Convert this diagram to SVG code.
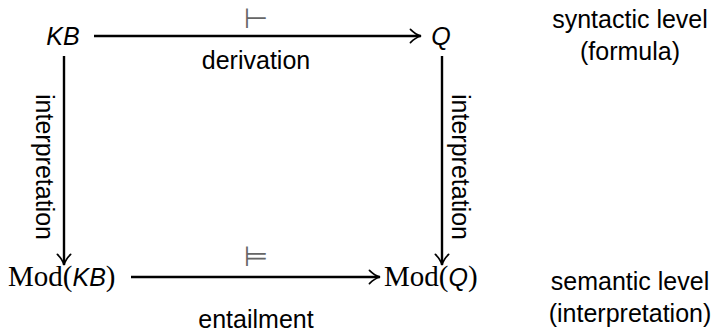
<svg xmlns="http://www.w3.org/2000/svg" width="717" height="333" viewBox="0 0 717 333">
<style>
  text { font-family: "Liberation Sans", "DejaVu Sans", sans-serif; font-size: 25px; fill: #000; }
  .it { font-style: italic; font-size: 25px; }
  .rm { font-family: "Liberation Serif", "DejaVu Serif", serif; font-size: 29px; }
  .sym { font-family: "DejaVu Sans", sans-serif; font-size: 28px; fill: #666666; }
  .c { text-anchor: middle; }
  .edge { stroke: #000; stroke-width: 2.4; fill: none; marker-end: url(#ah); }
</style>
<defs>
  <marker id="ah" viewBox="0 0 10 12" refX="9" refY="6" markerWidth="5.5" markerHeight="6.6" orient="auto" markerUnits="strokeWidth">
    <path d="M1,1 Q5,5 9,6 Q5,7 1,11" fill="none" stroke="#000" stroke-width="1.3" stroke-linecap="round"/>
  </marker>
</defs>
<g id="edges">
  <path class="edge" d="M94,36 L421,36"/>
  <path class="edge" d="M131,277 L380,277"/>
  <path class="edge" d="M64,56 L64,265"/>
  <path class="edge" d="M442,56 L442,265"/>
  <text class="sym c" x="256" y="28">⊢</text>
  <text class="sym c" x="256" y="266">⊨</text>
  <text class="c" x="256" y="69">derivation</text>
  <text class="c" x="256" y="328">entailment</text>
  <text class="c" transform="translate(36,167) rotate(90)">interpretation</text>
  <text class="c" transform="translate(452,167) rotate(90)">interpretation</text>
</g>
<g id="KB"><text class="it c" x="63" y="45">KB</text></g>
<g id="Q"><text class="it c" x="441" y="45">Q</text></g>
<g id="ModKB"><text x="8" y="286"><tspan class="rm">Mod(</tspan><tspan class="it">KB</tspan><tspan class="rm">)</tspan></text></g>
<g id="ModQ"><text x="384" y="286"><tspan class="rm">Mod(</tspan><tspan class="it">Q</tspan><tspan class="rm">)</tspan></text></g>
<g id="syntactic"><text class="c" x="630" y="28">syntactic level</text><text class="c" x="630" y="60">(formula)</text></g>
<g id="semantic"><text class="c" x="630" y="290">semantic level</text><text class="c" x="630" y="322">(interpretation)</text></g>
</svg>
